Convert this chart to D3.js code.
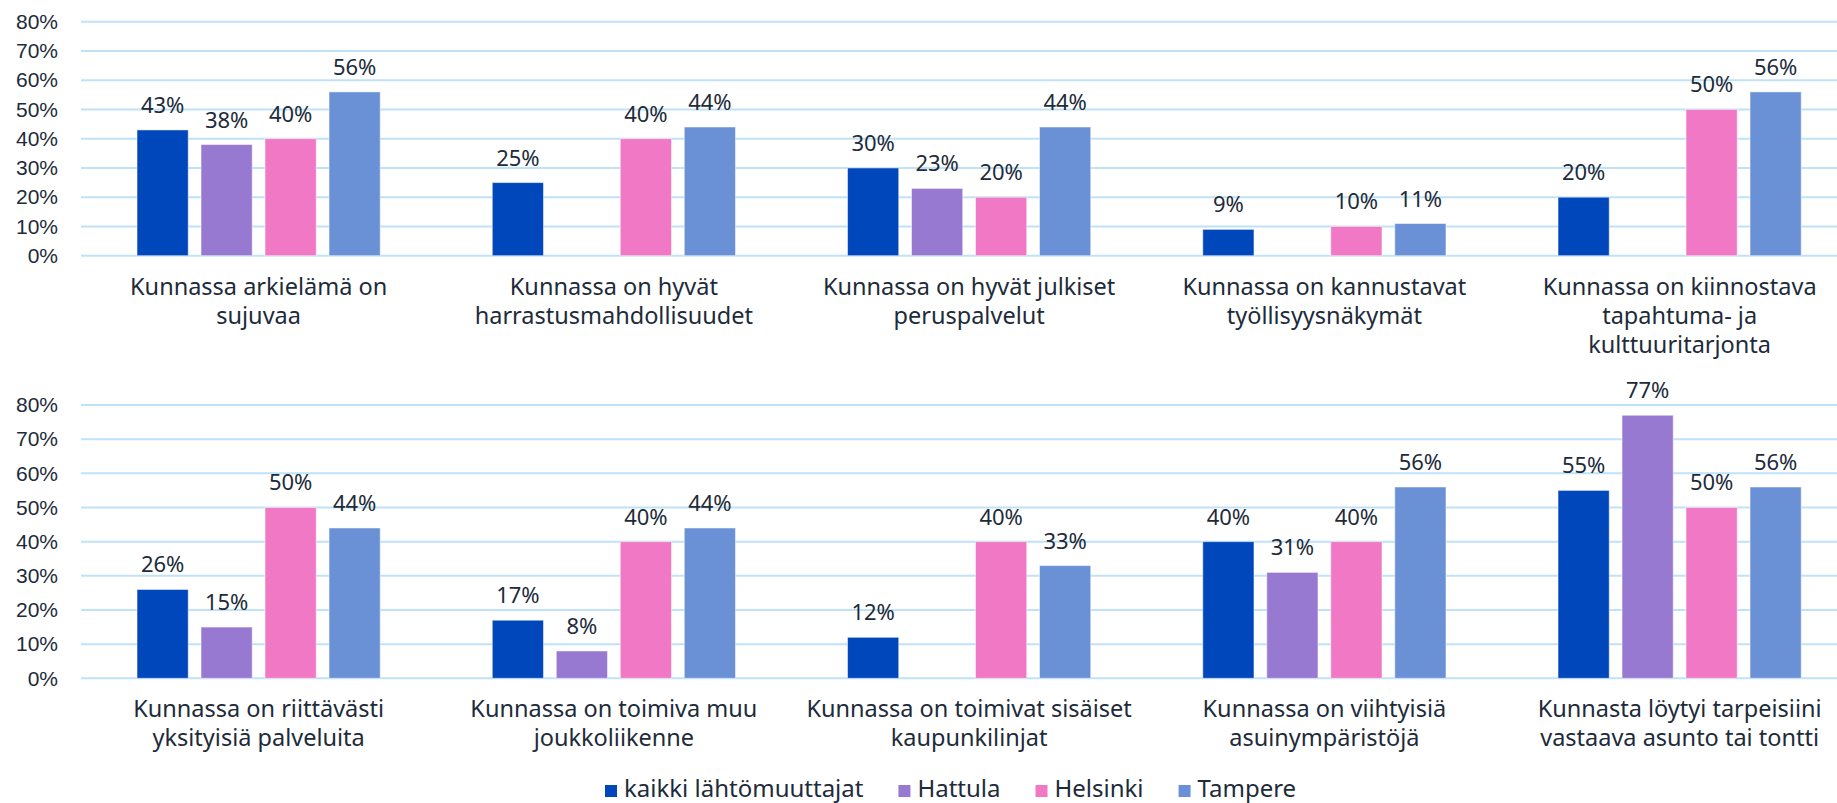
<!DOCTYPE html>
<html>
<head>
<meta charset="utf-8">
<script src="https://cdn.jsdelivr.net/npm/d3@7"></script>
<style>
	body { margin: 0; background: #fff; }
	svg { display: block; font-family: "Century Gothic", "Noto Sans", sans-serif; }
</style>
</head>
<body>
<div id="chart"></div>
<script>
// sarjat
const series = ["kaikki lähtömuuttajat", "Hattula", "Helsinki", "Tampere"];
const colors = ["#0047bb", "#9879d2", "#f178c4", "#6a91d6"];

// ylempi kaavio
const categoriesTop = [
	["Kunnassa arkielämä on", "sujuvaa"],
	["Kunnassa on hyvät", "harrastusmahdollisuudet"],
	["Kunnassa on hyvät julkiset", "peruspalvelut"],
	["Kunnassa on kannustavat", "työllisyysnäkymät"],
	["Kunnassa on kiinnostava", "tapahtuma- ja", "kulttuuritarjonta"],
];
const valuesTop = [
	[43, 38, 40, 56],
	[25, null, 40, 44],
	[30, 23, 20, 44],
	[9, null, 10, 11],
	[20, null, 50, 56],
];

// alempi kaavio
const categoriesBottom = [
	["Kunnassa on riittävästi", "yksityisiä palveluita"],
	["Kunnassa on toimiva muu", "joukkoliikenne"],
	["Kunnassa on toimivat sisäiset", "kaupunkilinjat"],
	["Kunnassa on viihtyisiä", "asuinympäristöjä"],
	["Kunnasta löytyi tarpeisiini", "vastaava asunto tai tontti"],
];
const valuesBottom = [
	[26, 15, 50, 44],
	[17, 8, 40, 44],
	[12, null, 40, 33],
	[40, 31, 40, 56],
	[55, 77, 50, 56],
];

const yTicks = [0, 10, 20, 30, 40, 50, 60, 70, 80];

const WIDTH = 1837;
const HEIGHT = 803;
const TEXT = "#1d2b3a";
const GRID = "#bfe2f8";
const PLOT_LEFT = 81;
const BAND = 355.25;

const svg = d3.select("#chart")
	.append("svg")
		.attr("width", WIDTH)
		.attr("height", HEIGHT)

function draw_panel(categories, values, yTop, yZero){
	const keys = categories.map((c, i) => i);

	const x0 = d3.scaleBand()
		.domain(keys)
		.range([PLOT_LEFT, PLOT_LEFT + BAND * keys.length])

	// 4 palkkia, väli 64px, leveys 51px
	const x1 = d3.scaleBand()
		.domain(series)
		.range([(BAND - 256) / 2, (BAND + 256) / 2])
		.paddingInner(0.2)
		.paddingOuter(0.1)

	const y = d3.scaleLinear()
		.domain([0, 80])
		.range([yZero, yTop])

	const g = svg.append("g");

	// ruudukko
	g.selectAll("line.grid")
		.data(yTicks)
		.join("line")
			.attr("class", "grid")
			.attr("x1", PLOT_LEFT)
			.attr("x2", WIDTH)
			.attr("y1", d => y(d))
			.attr("y2", d => y(d))
			.attr("stroke", GRID)
			.attr("stroke-width", 2)

	// y-akseli
	const yAxis = g.append("g")
		.attr("transform", `translate(${PLOT_LEFT - 23},0)`)
		.call(d3.axisLeft(y).tickValues(yTicks).tickFormat(d => d + "%").tickSize(0).tickPadding(0))
	yAxis.select(".domain").remove();
	yAxis.selectAll("text")
		.attr("font-size", 21)
		.attr("font-family", null)
		.attr("fill", TEXT)

	// palkit
	const groups = g.selectAll("g.cat")
		.data(values)
		.join("g")
			.attr("class", "cat")
			.attr("transform", (d, i) => `translate(${x0(i)},0)`)

	const items = groups.selectAll("g.bar")
		.data(d => d.map((v, j) => ({ key: series[j], value: v, color: colors[j] })).filter(_ => _.value != null))
		.join("g")
			.attr("class", "bar")

	items.append("rect")
		.attr("x", d => x1(d.key))
		.attr("width", x1.bandwidth())
		.attr("y", d => y(d.value))
		.attr("height", d => y(0) - y(d.value))
		.attr("fill", d => d.color)
		.attr("stroke", "#ffffff")
		.attr("stroke-opacity", 0.5)
		.attr("stroke-width", 1)

	items.append("text")
		.attr("x", d => x1(d.key) + x1.bandwidth() / 2)
		.attr("y", d => y(d.value) - 17)
		.attr("text-anchor", "middle")
		.attr("font-size", 22)
		.attr("fill", TEXT)
		.text(d => d.value + "%")

	// luokkien nimet
	const labels = g.selectAll("text.cat")
		.data(categories)
		.join("text")
			.attr("class", "cat")
			.attr("text-anchor", "middle")
			.attr("font-size", 23.5)
			.attr("fill", TEXT)
			.attr("x", (d, i) => x0(i) + BAND / 2)
			.attr("y", yZero + 39)

	labels.selectAll("tspan")
		.data(d => d)
		.join("tspan")
			.attr("x", function(){ return this.parentNode.getAttribute("x"); })
			.attr("dy", (d, i) => i == 0 ? 0 : 29)
			.text(d => d)
}

draw_panel(categoriesTop, valuesTop, 21.7, 255.7);
draw_panel(categoriesBottom, valuesBottom, 405, 678.3);

// selite
const legend = svg.append("g");
let lx = 605;
series.map((name, n) => {
	legend.append("rect")
		.attr("x", lx)
		.attr("y", 785)
		.attr("width", 12)
		.attr("height", 12)
		.attr("fill", colors[n])
	const t = legend.append("text")
		.attr("x", lx + 19)
		.attr("y", 797)
		.attr("font-size", 24)
		.attr("fill", TEXT)
		.text(name)
	lx += 19 + t.node().getComputedTextLength() + 35;
});
</script>
</body>
</html>
